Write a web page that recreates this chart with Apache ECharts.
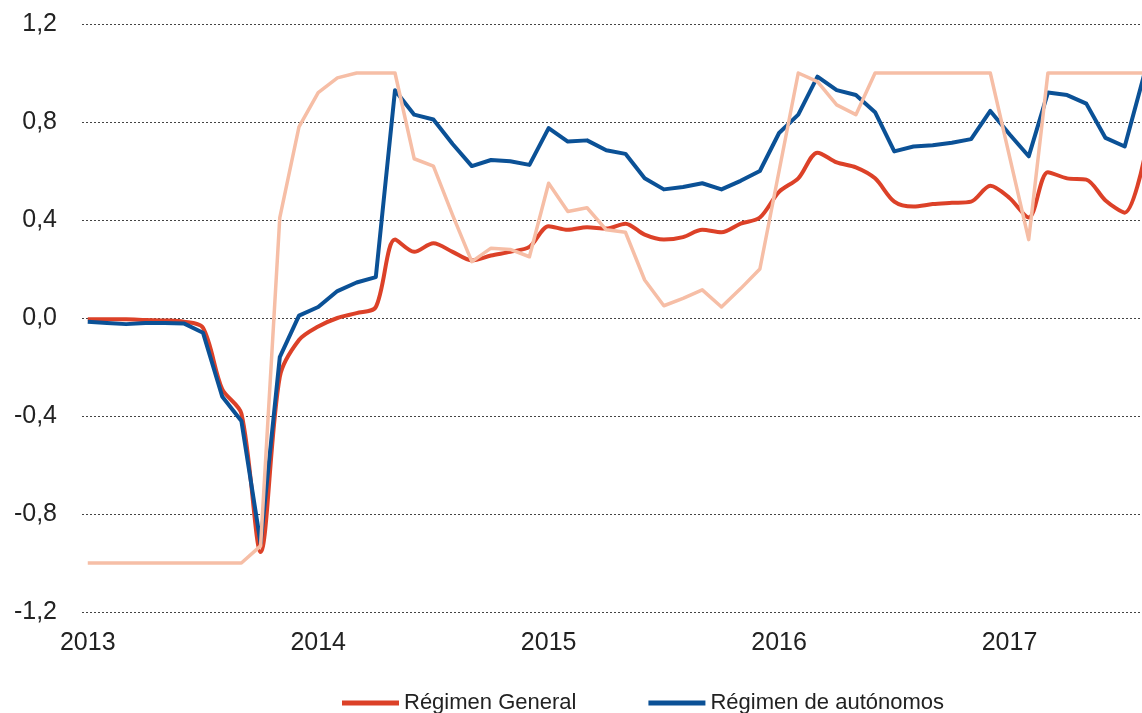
<!DOCTYPE html>
<html>
<head>
<meta charset="utf-8">
<script src="https://cdn.jsdelivr.net/npm/echarts@6/dist/echarts.min.js"></script>
<style>
  html, body { margin: 0; padding: 0; background: #fff; }
  #chart { width: 1142px; height: 713px; }
</style>
</head>
<body>
<div id="chart"></div>
<script>
// meses desde enero 2013, una etiqueta por año
const yearLabels = ['2013', '2014', '2015', '2016', '2017']
const yearTicks = [0, 12, 24, 36, 48]

const general = [
  -0.005, -0.005, -0.005, -0.008, -0.01, -0.015, -0.04, -0.29, -0.39, -0.955,
  -0.24, -0.09, -0.035, 0.0, 0.02, 0.045, 0.32, 0.27, 0.305, 0.27,
  0.235, 0.255, 0.27, 0.29, 0.375, 0.36, 0.37, 0.365, 0.385, 0.34,
  0.32, 0.33, 0.36, 0.35, 0.385, 0.41, 0.515, 0.57, 0.675, 0.635,
  0.615, 0.57, 0.475, 0.455, 0.465, 0.47, 0.475, 0.54, 0.49, 0.41,
  0.595, 0.57, 0.565, 0.48, 0.43, 0.645
]

const autonomos = [
  -0.015, -0.02, -0.025, -0.02, -0.02, -0.022, -0.06, -0.32, -0.42, -0.92,
  -0.16, 0.01, 0.045, 0.11, 0.145, 0.167, 0.93, 0.83, 0.81, 0.71,
  0.62, 0.645, 0.64, 0.625, 0.775, 0.72, 0.725, 0.685, 0.67, 0.57,
  0.525, 0.535, 0.55, 0.525, 0.56, 0.60, 0.755, 0.83, 0.985, 0.93,
  0.91, 0.84, 0.68, 0.70, 0.705, 0.715, 0.73, 0.845, 0.75, 0.66,
  0.92, 0.91, 0.875, 0.735, 0.70, 0.99
]

// serie sin leyenda (rosa claro)
const thirdSeries = [
  -1.0, -1.0, -1.0, -1.0, -1.0, -1.0, -1.0, -1.0, -1.0, -0.93,
  0.41, 0.78, 0.92, 0.98, 1.0, 1.0, 1.0, 0.65, 0.62, 0.42,
  0.23, 0.285, 0.28, 0.25, 0.55, 0.435, 0.45, 0.36, 0.35, 0.155,
  0.05, 0.08, 0.115, 0.045, 0.12, 0.2, 0.6, 1.0, 0.965, 0.87,
  0.83, 1.0, 1.0, 1.0, 1.0, 1.0, 1.0, 1.0, 0.66, 0.32,
  1.0, 1.0, 1.0, 1.0, 1.0, 1.0
]

const toPairs = arr => arr.map((v, i) => [i, v])
const font = "'Liberation Sans', Arial, sans-serif"

const chart = echarts.init(document.getElementById('chart'))

chart.setOption({
  animation: false,
  grid: {
    left: 82,
    right: 0,
    top: 24,
    bottom: 101
  },
  legend: {
    data: ['Régimen General', 'Régimen de autónomos'],
    left: 337,
    top: 687,
    icon: 'rect',
    itemWidth: 57,
    itemHeight: 5,
    itemGap: 72,
    textStyle: { fontSize: 22, color: '#222', fontFamily: font }
  },
  xAxis: {
    type: 'value',
    min: -0.3,
    max: 54.9,
    axisLine: { show: false },
    axisTick: { show: false },
    splitLine: { show: false },
    axisLabel: {
      customValues: yearTicks,
      formatter: v => yearLabels[Math.round(v / 12)],
      fontSize: 25,
      color: '#222',
      fontFamily: font,
      margin: 19
    }
  },
  yAxis: {
    type: 'value',
    min: -1.2,
    max: 1.2,
    interval: 0.4,
    axisLine: { show: false },
    axisTick: { show: false },
    axisLabel: {
      formatter: v => v.toFixed(1).replace('.', ','),
      fontSize: 25,
      color: '#222',
      fontFamily: font,
      margin: 25
    },
    splitLine: {
      lineStyle: { color: '#444', width: 1, type: [2, 2] }
    }
  },
  series: [
    {
      name: 'Régimen General',
      type: 'line',
      data: toPairs(general),
      smooth: 0.3,
      symbol: 'none',
      color: '#dc4128',
      lineStyle: { width: 4, color: '#dc4128', join: 'round' }
    },
    {
      name: 'Régimen de autónomos',
      type: 'line',
      data: toPairs(autonomos),
      symbol: 'none',
      color: '#0b5196',
      lineStyle: { width: 4, color: '#0b5196', join: 'round' }
    },
    {
      name: 'otra',
      type: 'line',
      data: toPairs(thirdSeries),
      symbol: 'none',
      color: '#f6bea6',
      lineStyle: { width: 3.5, color: '#f6bea6', join: 'round' }
    }
  ]
})
</script>
</body>
</html>
